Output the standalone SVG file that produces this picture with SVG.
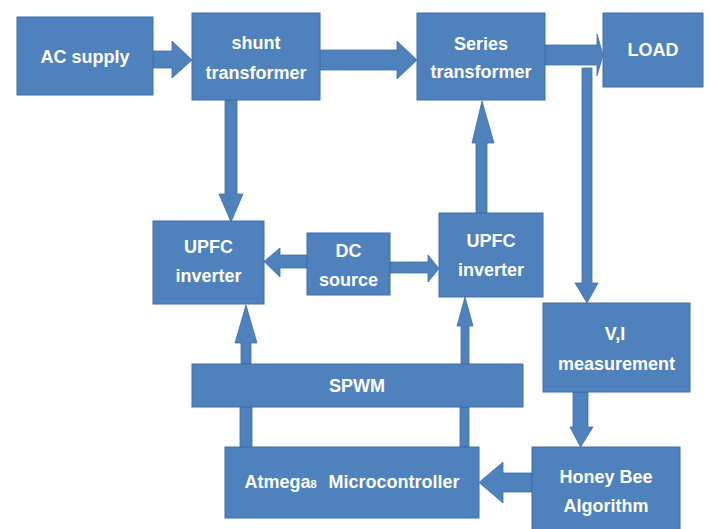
<svg xmlns="http://www.w3.org/2000/svg" width="710" height="529" viewBox="0 0 710 529">
<style>
.box{fill:#4F81BD;stroke:#3F6FA6;stroke-width:1}
.arr{fill:#4F81BD;stroke:#3F6FA6;stroke-width:0.8}
.t{font-family:"Liberation Sans",Arial,sans-serif;font-weight:bold;font-size:18px;fill:#FFFFFF;text-anchor:middle}
</style>
<rect width="710" height="529" fill="#FFFFFF"/>
<g id="connectors">
<polygon class="arr" points="153,51 172,51 172,41 192,60 172,78 172,68 153,68"/>
<polygon class="arr" points="320,50 397,50 397,41 417,60 397,79 397,70 320,70"/>
<polygon class="arr" points="545,45 597,45 597,34 603,55 597,76 597,65 545,65"/>
<polygon class="arr" points="582,68 592,68 592,283 598,283 587,303 575,283 582,283"/>
<polygon class="arr" points="225,100 237,100 237,194 243,194 231,222 219,194 225,194"/>
<polygon class="arr" points="476,213 487,213 487,143 494,143 482,101 472,143 476,143"/>
<polygon class="arr" points="307,255 280,255 280,248 264,261.5 280,277 280,268 307,268"/>
<polygon class="arr" points="390,262 428,262 428,255 439,268.5 428,282 428,273 390,273"/>
<polygon class="arr" points="241,364 241,343 235,343 246,305 257,343 251,343 251,364"/>
<polygon class="arr" points="461,364 461,326 457,326 465,297 473,326 469,326 469,364"/>
<rect class="arr" x="240" y="407" width="12" height="40"/>
<rect class="arr" x="460" y="407" width="9" height="40"/>
<polygon class="arr" points="573,392 588,392 588,427 593,427 580.5,447 570,427 573,427"/>
<polygon class="arr" points="532,473 503,473 503,462 479,482.5 503,503 503,492 532,492"/>
</g>
<g id="ac-supply"><rect class="box" x="17" y="17" width="136" height="78"/><text class="t" x="85" y="63">AC supply</text></g>
<g id="shunt-transformer"><rect class="box" x="192" y="13" width="128" height="87"/><text class="t" x="256" y="49">shunt</text><text class="t" x="256" y="79">transformer</text></g>
<g id="series-transformer"><rect class="box" x="417" y="13" width="128" height="87"/><text class="t" x="481" y="50">Series</text><text class="t" x="481" y="78">transformer</text></g>
<g id="load"><rect class="box" x="603" y="13" width="100" height="74"/><text class="t" x="653" y="56">LOAD</text></g>
<g id="upfc-left"><rect class="box" x="153" y="221" width="111" height="83"/><text class="t" x="208.5" y="253">UPFC</text><text class="t" x="208.5" y="282">inverter</text></g>
<g id="dc-source"><rect class="box" x="307" y="233" width="83" height="62"/><text class="t" x="348.5" y="257">DC</text><text class="t" x="348.5" y="286">source</text></g>
<g id="upfc-right"><rect class="box" x="439" y="213" width="104" height="84"/><text class="t" x="491" y="247">UPFC</text><text class="t" x="491" y="276">inverter</text></g>
<g id="vi-measurement"><rect class="box" x="543" y="303" width="147" height="89"/><text class="t" x="615" y="340">V,I</text><text class="t" x="616.5" y="370">measurement</text></g>
<g id="spwm"><rect class="box" x="192" y="364" width="331" height="43"/><text class="t" x="357" y="392">SPWM</text></g>
<g id="atmega"><rect class="box" x="225" y="447" width="254" height="71"/><text class="t" x="352" y="488">Atmega<tspan font-size="11px">8</tspan><tspan dx="7"> Microcontroller</tspan></text></g>
<g id="honey-bee"><rect class="box" x="532" y="447" width="148" height="90"/><text class="t" x="606" y="483">Honey Bee</text><text class="t" x="606" y="512">Algorithm</text></g>
</svg>
